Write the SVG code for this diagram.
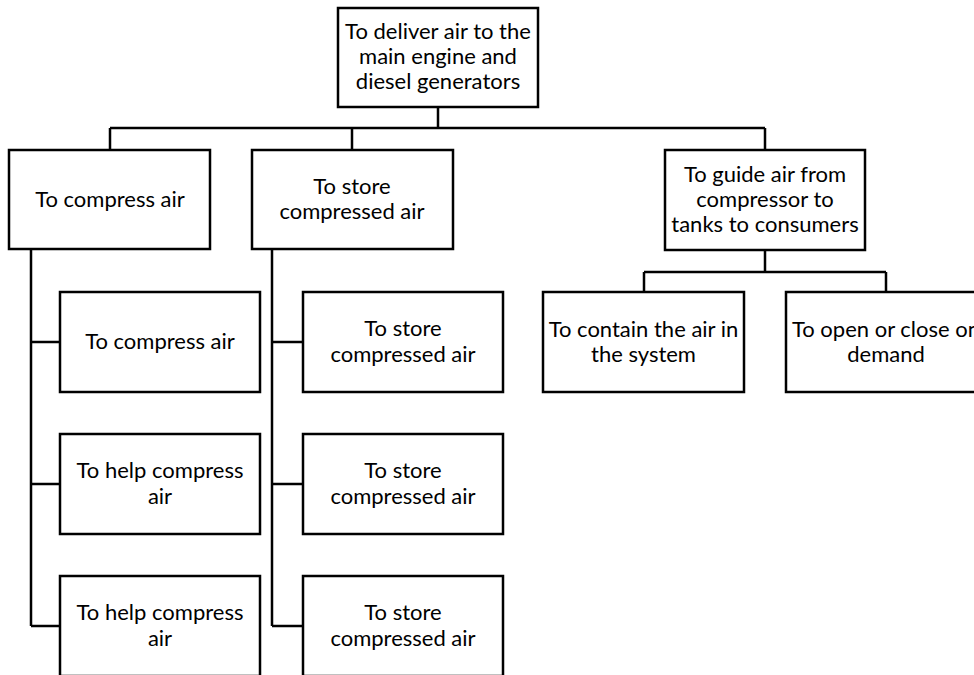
<svg xmlns="http://www.w3.org/2000/svg" width="974" height="675" viewBox="0 0 974 675">
  <style>
    .box { fill: #ffffff; stroke: #000000; stroke-width: 2.5; }
    .wire { fill: none; stroke: #000000; stroke-width: 2.5; }
    text { font-family: Lato, "Liberation Sans", sans-serif; font-size: 22px; fill: #000000; text-anchor: middle; }
  </style>
  <rect width="974" height="675" fill="#ffffff"/>

  <!-- connectors -->
  <g id="connectors" class="wire">
    <path d="M438 107 V128 M110 128 H765 M110 128 V150 M352 128 V150 M765 128 V150"/>
    <path d="M31 249 V626 M31 342 H60 M31 484 H60 M31 626 H60"/>
    <path d="M272 249 V626 M272 342 H303 M272 484 H303 M272 626 H303"/>
    <path d="M765 250 V272 M644 272 H886 M644 272 V292 M886 272 V292"/>
  </g>

  <!-- root function -->
  <g id="root">
    <rect class="box" x="338" y="8" width="200" height="99"/>
    <text x="438" y="39">To deliver air to the</text>
    <text x="438" y="64">main engine and</text>
    <text x="438" y="89">diesel generators</text>
  </g>

  <!-- first level -->
  <g id="compress">
    <rect class="box" x="9" y="150" width="201" height="99"/>
    <text x="110" y="207">To compress air</text>
  </g>
  <g id="store">
    <rect class="box" x="252" y="150" width="201" height="99"/>
    <text x="352" y="194">To store</text>
    <text x="352" y="219">compressed air</text>
  </g>
  <g id="guide">
    <rect class="box" x="665" y="150" width="200" height="100"/>
    <text x="765" y="182">To guide air from</text>
    <text x="765" y="207">compressor to</text>
    <text x="765" y="232">tanks to consumers</text>
  </g>

  <!-- compress branch -->
  <g id="compress-1">
    <rect class="box" x="60" y="292" width="200" height="100"/>
    <text x="160" y="349">To compress air</text>
  </g>
  <g id="compress-2">
    <rect class="box" x="60" y="434" width="200" height="100"/>
    <text x="160" y="478">To help compress</text>
    <text x="160" y="504">air</text>
  </g>
  <g id="compress-3">
    <rect class="box" x="60" y="576" width="200" height="100"/>
    <text x="160" y="620">To help compress</text>
    <text x="160" y="646">air</text>
  </g>

  <!-- store branch -->
  <g id="store-1">
    <rect class="box" x="303" y="292" width="200" height="100"/>
    <text x="403" y="336">To store</text>
    <text x="403" y="362">compressed air</text>
  </g>
  <g id="store-2">
    <rect class="box" x="303" y="434" width="200" height="100"/>
    <text x="403" y="478">To store</text>
    <text x="403" y="504">compressed air</text>
  </g>
  <g id="store-3">
    <rect class="box" x="303" y="576" width="200" height="100"/>
    <text x="403" y="620">To store</text>
    <text x="403" y="646">compressed air</text>
  </g>

  <!-- guide branch -->
  <g id="contain">
    <rect class="box" x="543" y="292" width="201" height="100"/>
    <text x="643.5" y="337">To contain the air in</text>
    <text x="643.5" y="362">the system</text>
  </g>
  <g id="valve">
    <rect class="box" x="786" y="292" width="200" height="100"/>
    <text x="886" y="337">To open or close on</text>
    <text x="886" y="362">demand</text>
  </g>
</svg>
